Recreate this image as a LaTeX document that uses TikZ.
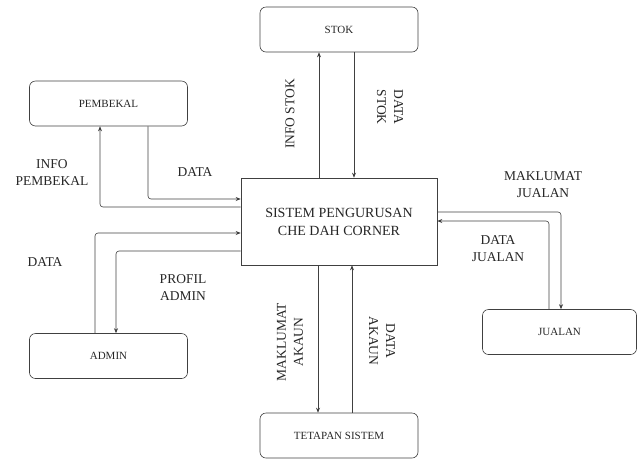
\documentclass[tikz,border=0pt]{standalone}
\usepackage{fontspec}
\setmainfont{Liberation Serif}
\usetikzlibrary{arrows.meta}

\begin{document}
\begin{tikzpicture}[x=1pt, y=-1pt,
    entity/.style={draw=black!75, line width=0.6pt, rounded corners=6pt, minimum width=158pt, minimum height=45pt, inner sep=0pt, text=black!85, font=\fontsize{11}{13}\selectfont},
    process/.style={draw=black!75, line width=0.6pt, minimum width=196pt, minimum height=87pt, inner sep=0pt, align=center, text=black!85, font=\fontsize{14}{18}\selectfont},
    flowlabel/.style={align=center, inner sep=0pt, text=black!85, font=\fontsize{13.5}{17}\selectfont},
    flow/.style={draw=black!75, line width=0.6pt, rounded corners=3pt, -{Stealth[length=5pt, width=4pt]}}]

    \useasboundingbox (0,0) rectangle (637,459);

    \node[process] (sys) at (339, 221.5) {SISTEM PENGURUSAN\\CHE DAH CORNER};

    \node[entity] (stok) at (339, 29.5) {STOK};
    \node[entity] (pembekal) at (108.5, 103.5) {PEMBEKAL};
    \node[entity] (admin) at (108.5, 356) {ADMIN};
    \node[entity] (tetapan) at (339, 435.5) {TETAPAN SISTEM};
    \node[entity, minimum width=154pt] (jualan) at (559.5, 332) {JUALAN};

    \path[flow] ([xshift=-20]sys.north) to ([xshift=-20]stok.south);
    \path[flow] ([xshift=15]stok.south) to ([xshift=15]sys.north);

    \path[flow] ([xshift=39.5]pembekal.south) |- ([yshift=22.5]sys.west);
    \path[flow] ([yshift=14.5]sys.west) -| ([xshift=-8.5]pembekal.south);

    \path[flow] ([xshift=-13.5]admin.north) |- ([yshift=-11.5]sys.west);
    \path[flow] ([yshift=-29.5]sys.west) -| ([xshift=7.5]admin.north);

    \path[flow] ([xshift=-21]sys.south) to ([xshift=-21]tetapan.north);
    \path[flow] ([xshift=13]tetapan.north) to ([xshift=13]sys.south);

    \path[flow] ([yshift=9.5]sys.east) -| ([xshift=1.5]jualan.north);
    \path[flow] ([xshift=-10.5]jualan.north) |- ([yshift=0.5]sys.east);

    \node[flowlabel, rotate=90] (lInfoStok) at (290, 114) {INFO STOK};
    \node[flowlabel, rotate=-90] (lDataStok) at (390, 107) {DATA\\STOK};
    \node[flowlabel] (lInfoPembekal) at (52, 173) {INFO\\PEMBEKAL};
    \node[flowlabel] (lDataPembekal) at (195, 172) {DATA};
    \node[flowlabel] (lDataAdmin) at (45, 262) {DATA};
    \node[flowlabel] (lProfil) at (183, 288) {PROFIL\\ADMIN};
    \node[flowlabel, rotate=90] (lMaklumatAkaun) at (290, 342) {MAKLUMAT\\AKAUN};
    \node[flowlabel, rotate=-90] (lDataAkaun) at (382, 341) {DATA\\AKAUN};
    \node[flowlabel] (lMaklumatJualan) at (543, 185) {MAKLUMAT\\JUALAN};
    \node[flowlabel] (lDataJualan) at (498, 249) {DATA\\JUALAN};

  \end{tikzpicture}
\end{document}
